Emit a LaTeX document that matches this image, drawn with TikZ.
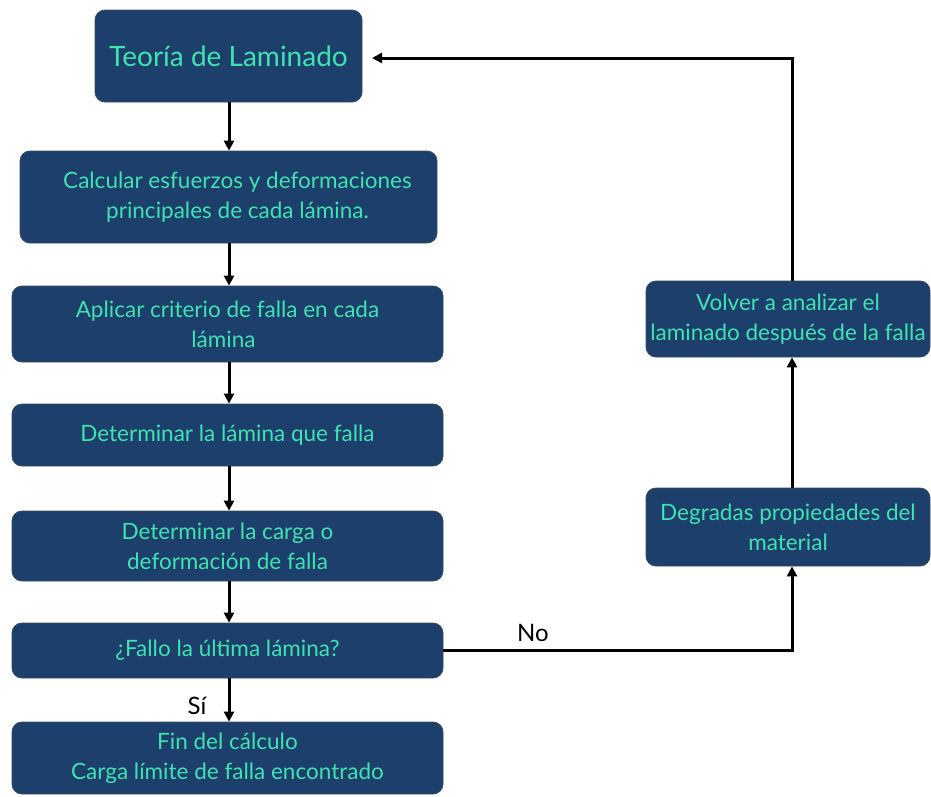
\documentclass[tikz,border=0pt]{standalone}
\usepackage{fontspec}
\setmainfont{Lato}
\usetikzlibrary{arrows.meta}
\definecolor{boxfill}{HTML}{1C3F6B}
\definecolor{boxtext}{HTML}{40E2B2}
\definecolor{boxedge}{HTML}{3B4A5C}
\tikzset{
  flowbox/.style={draw=boxedge, line width=0.8pt, fill=boxfill, rounded corners=10pt,
    text=boxtext, align=center, font=\fontsize{22.5}{30}\selectfont, inner sep=0pt},
  conn/.style={line width=3pt, -{Triangle[length=10pt,width=10pt]}},
  lab/.style={font=\fontsize{24}{26}\selectfont, text=black}
}
\begin{document}
\begin{tikzpicture}[x=1pt,y=-1pt]
\useasboundingbox (0,0) rectangle (931,796);
\node[flowbox, minimum width=267pt, minimum height=92pt, font=\fontsize{28}{32}\selectfont] (t) at (228.5,56) {Teoría de Laminado};
\node[flowbox, minimum width=417pt, minimum height=92pt] (c) at (228.5,197) {\hspace*{18pt}Calcular esfuerzos y deformaciones\\\hspace*{18pt}principales de cada lámina.};
\node[flowbox, minimum width=431pt, minimum height=76pt] (a) at (227.5,324) {Aplicar criterio de falla en cada\\lámina\hspace*{8pt}};
\node[flowbox, minimum width=431pt, minimum height=62pt] (d) at (227.5,435) {Determinar la lámina que falla};
\node[flowbox, minimum width=431pt, minimum height=70pt] (g) at (227.5,546) {Determinar la carga o\\deformación de falla};
\node[flowbox, minimum width=431pt, minimum height=55pt] (f) at (227.5,650.5) {¿Fallo la última lámina?};
\node[flowbox, minimum width=431pt, minimum height=72pt] (e) at (227.5,758) {Fin del cálculo\\Carga límite de falla encontrado};
\node[flowbox, minimum width=284pt, minimum height=76pt] (v) at (788,319) {Volver a analizar el\\laminado después de la falla};
\node[flowbox, minimum width=284pt, minimum height=78pt] (r) at (788,527) {Degradas propiedades del\\material};
\coordinate (tc) at (229,0);
\draw[conn] (t.south -| tc) -- (c.north -| tc);
\draw[conn] (c.south -| tc) -- (a.north -| tc);
\draw[conn] (a.south -| tc) -- (d.north -| tc);
\draw[conn] (d.south -| tc) -- (g.north -| tc);
\draw[conn] (g.south -| tc) -- (f.north -| tc);
\draw[conn] (f.south -| tc) -- (e.north -| tc);
\coordinate (rx) at (792,0);
\draw[conn] (f.east) -- (f.east -| rx) -- (r.south -| rx);
\draw[conn] (r.north -| rx) -- (v.south -| rx);
\coordinate (tr) at (372,58);
\draw[conn] (v.north -| rx) -- (tr -| rx) -- (tr);
\node[lab] (no) at (533,633) {No};
\node[lab] (si) at (197,706) {Sí};
\end{tikzpicture}
\end{document}
